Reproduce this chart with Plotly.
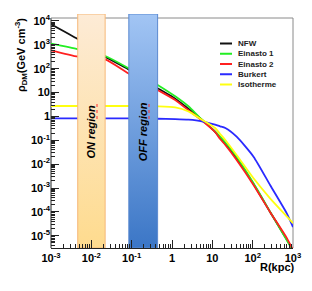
import numpy as np
import plotly.graph_objects as go

# ---------------- data ----------------
r_kpc = [0.001, 0.0047, 0.022, 0.082, 0.43, 1.2, 2.55, 5.5, 11.7, 15.6, 21, 40, 105, 270, 700, 1000]

nfw = [7280, 1710, 319, 94.6, 15.6, 5.55, 2.11, 0.73, 0.223, 0.125, 0.070, 0.0173,
       1.48e-3, 9.9e-5, 7.0e-6, 2.4e-6]
einasto1 = [1120, 652, 341, 107, 21.4, 6.98, 2.66, 0.73, 0.238, 0.142, 0.081, 0.0206,
            1.58e-3, 1.02e-4, 6.6e-6, 2.3e-6]
einasto2 = [592, 319, 248, 64.3, 13.2, 4.89, 1.81, 0.676, 0.223, 0.113, 0.0635, 0.0149,
            1.34e-3, 9.9e-5, 8.1e-6, 2.5e-6]
burkert = [0.836, 0.836, 0.835, 0.83, 0.80, 0.77, 0.73, 0.625, 0.451, 0.386, 0.327, 0.142,
           0.0206, 1.34e-3, 8.7e-5, 2.3e-5]
isotherme = [2.74, 2.74, 2.74, 2.74, 2.66, 2.41, 1.64, 0.73, 0.327, 0.184, 0.103, 0.0242,
             2.55e-3, 3.71e-4, 6.5e-5, 3.4e-5]

series_names = ["NFW", "Einasto 1", "Einasto 2", "Burkert", "Isotherme"]
series_values = [nfw, einasto1, einasto2, burkert, isotherme]
series_colors = ["#111111", "#22ee22", "#ff2020", "#2a2aff", "#ffff10"]

on_region = [0.0046, 0.022]
off_region = [0.085, 0.44]

x_tick_vals = [1e-3, 1e-2, 1e-1, 1, 10, 100, 1000]
x_tick_text = ["10<sup>-3</sup>", "10<sup>-2</sup>", "10<sup>-1</sup>", "1", "10",
               "10<sup>2</sup>", "10<sup>3</sup>"]
y_tick_vals = [1e4, 1e3, 1e2, 10, 1, 1e-1, 1e-2, 1e-3, 1e-4, 1e-5]
y_tick_text = ["10<sup>4</sup>", "10<sup>3</sup>", "10<sup>2</sup>", "10", "1",
               "10<sup>-1</sup>", "10<sup>-2</sup>", "10<sup>-3</sup>", "10<sup>-4</sup>",
               "10<sup>-5</sup>"]

# ---------------- layout constants ----------------
BODY = 8                      # default page margin around the plot div
W, H = 312, 291
# plot area in window pixels: x 51..293, y 14..248
ML, MT = 51 - BODY, 14 - BODY
PW, PH = 293 - 51, 248 - 14
MR, MB = W - ML - PW, H - MT - PH
X_RANGE = [-3, 3.0]
Y_RANGE = [-5.514, 4.293]
FONT = "Liberation Sans, Arial, sans-serif"


def px(xp):
    """window x pixel -> paper x"""
    return (xp - 51) / PW


def py(yp):
    """window y pixel -> paper y"""
    return (248 - yp) / PH


fig = go.Figure()

for name, vals, col in zip(series_names, series_values, series_colors):
    fig.add_trace(go.Scatter(x=r_kpc, y=vals, mode="lines", name=name,
                             line=dict(color=col, width=1.8, shape="spline", smoothing=0.6),
                             showlegend=False, hoverinfo="skip"))

y_lo, y_hi = 10 ** Y_RANGE[0], 10 ** Y_RANGE[1]
bands = [
    (on_region, "#f6b878", [[0, "#fedb8e"], [1, "#fdebd6"]]),
    (off_region, "#5b8ad0", [[0, "#3b76c6"], [1, "#a2c5f4"]]),
]
for (r0, r1), edge, cs in bands:
    fig.add_trace(go.Scatter(x=[r0, r1, r1, r0, r0], y=[y_lo, y_lo, y_hi, y_hi, y_lo],
                             mode="lines", fill="toself",
                             fillgradient=dict(type="vertical", colorscale=cs),
                             line=dict(color=edge, width=1),
                             showlegend=False, hoverinfo="skip"))

minor_vals = [m * 10.0 ** k for k in range(-6, 5) for m in range(2, 10)]

fig.update_layout(
    width=W, height=H,
    margin=dict(l=ML, r=MR, t=MT, b=MB),
    paper_bgcolor="white", plot_bgcolor="white",
    font=dict(family=FONT, color="black"),
    xaxis=dict(type="log", range=X_RANGE, showgrid=False, zeroline=False,
               showline=True, linecolor="#222222", linewidth=1,
               tickmode="array", tickvals=x_tick_vals, ticktext=x_tick_text,
               ticks="inside", ticklen=8, tickcolor="#222222", tickwidth=1,
               tickfont=dict(size=11, weight="bold", family=FONT),
               minor=dict(tickmode="array", tickvals=minor_vals, ticks="inside",
                          ticklen=4, tickcolor="#222222", showgrid=False)),
    yaxis=dict(type="log", range=Y_RANGE, showgrid=False, zeroline=False,
               showline=False,
               tickmode="array", tickvals=y_tick_vals, ticktext=y_tick_text,
               ticks="inside", ticklen=8, tickcolor="#222222", tickwidth=1,
               tickfont=dict(size=11, weight="bold", family=FONT),
               minor=dict(tickmode="array", tickvals=minor_vals, ticks="inside",
                          ticklen=4, tickcolor="#222222", showgrid=False)),
)

top = py(18)
shapes = [
    dict(type="line", xref="paper", yref="paper", x0=0, x1=0, y0=0, y1=top,
         line=dict(color="#222222", width=1), layer="below"),
    dict(type="line", xref="paper", yref="paper", x0=0, x1=1, y0=top, y1=top,
         line=dict(color="#8a8a8a", width=1), layer="below"),
    dict(type="line", xref="paper", yref="paper", x0=1, x1=1, y0=0, y1=top,
         line=dict(color="#8a8a8a", width=1), layer="below"),
]

annotations = []
# legend (manual, ROOT-like)
for i, (name, col) in enumerate(zip(series_names, series_colors)):
    yy = py(43.5 + i * 10.25)
    shapes.append(dict(type="line", xref="paper", yref="paper", x0=px(220), x1=px(232),
                       y0=yy, y1=yy, line=dict(color=col, width=2)))
    annotations.append(dict(xref="paper", yref="paper", x=px(236), y=yy, text=f"<b>{name}</b>",
                            showarrow=False, xanchor="left", yanchor="middle",
                            font=dict(size=8, family=FONT, color="#222222")))

# band labels
for (r0, r1), label, ux in [(on_region, "ON region", 97), (off_region, "OFF region", 149)]:
    annotations.append(dict(xref="x", yref="paper", x=np.log10(np.sqrt(r0 * r1)), y=py(132),
                            xanchor="center", yanchor="middle",
                            text=f"<b><i>{label}</i></b>", textangle=-90, showarrow=False,
                            font=dict(size=11, family=FONT, color="black")))
    shapes.append(dict(type="line", xref="paper", yref="paper", x0=px(ux), x1=px(ux),
                       y0=py(104), y1=py(122), line=dict(color="#ff3030", width=1, dash="dot"),
                       layer="above"))

# axis titles
annotations.append(dict(xref="paper", yref="paper", x=px(21), y=py(55),
                        xanchor="center", yanchor="middle",
                        text="<b>ρ<sub>DM</sub>(GeV cm<sup>-3</sup>)</b>", textangle=-90,
                        showarrow=False, font=dict(size=11, family=FONT, color="black")))
annotations.append(dict(xref="paper", yref="paper", x=px(277), y=py(267),
                        xanchor="center", yanchor="middle",
                        text="<b>R(kpc)</b>", showarrow=False,
                        font=dict(size=11, family=FONT, color="black")))

fig.update_layout(shapes=shapes, annotations=annotations)
fig.write_html("out.html")
